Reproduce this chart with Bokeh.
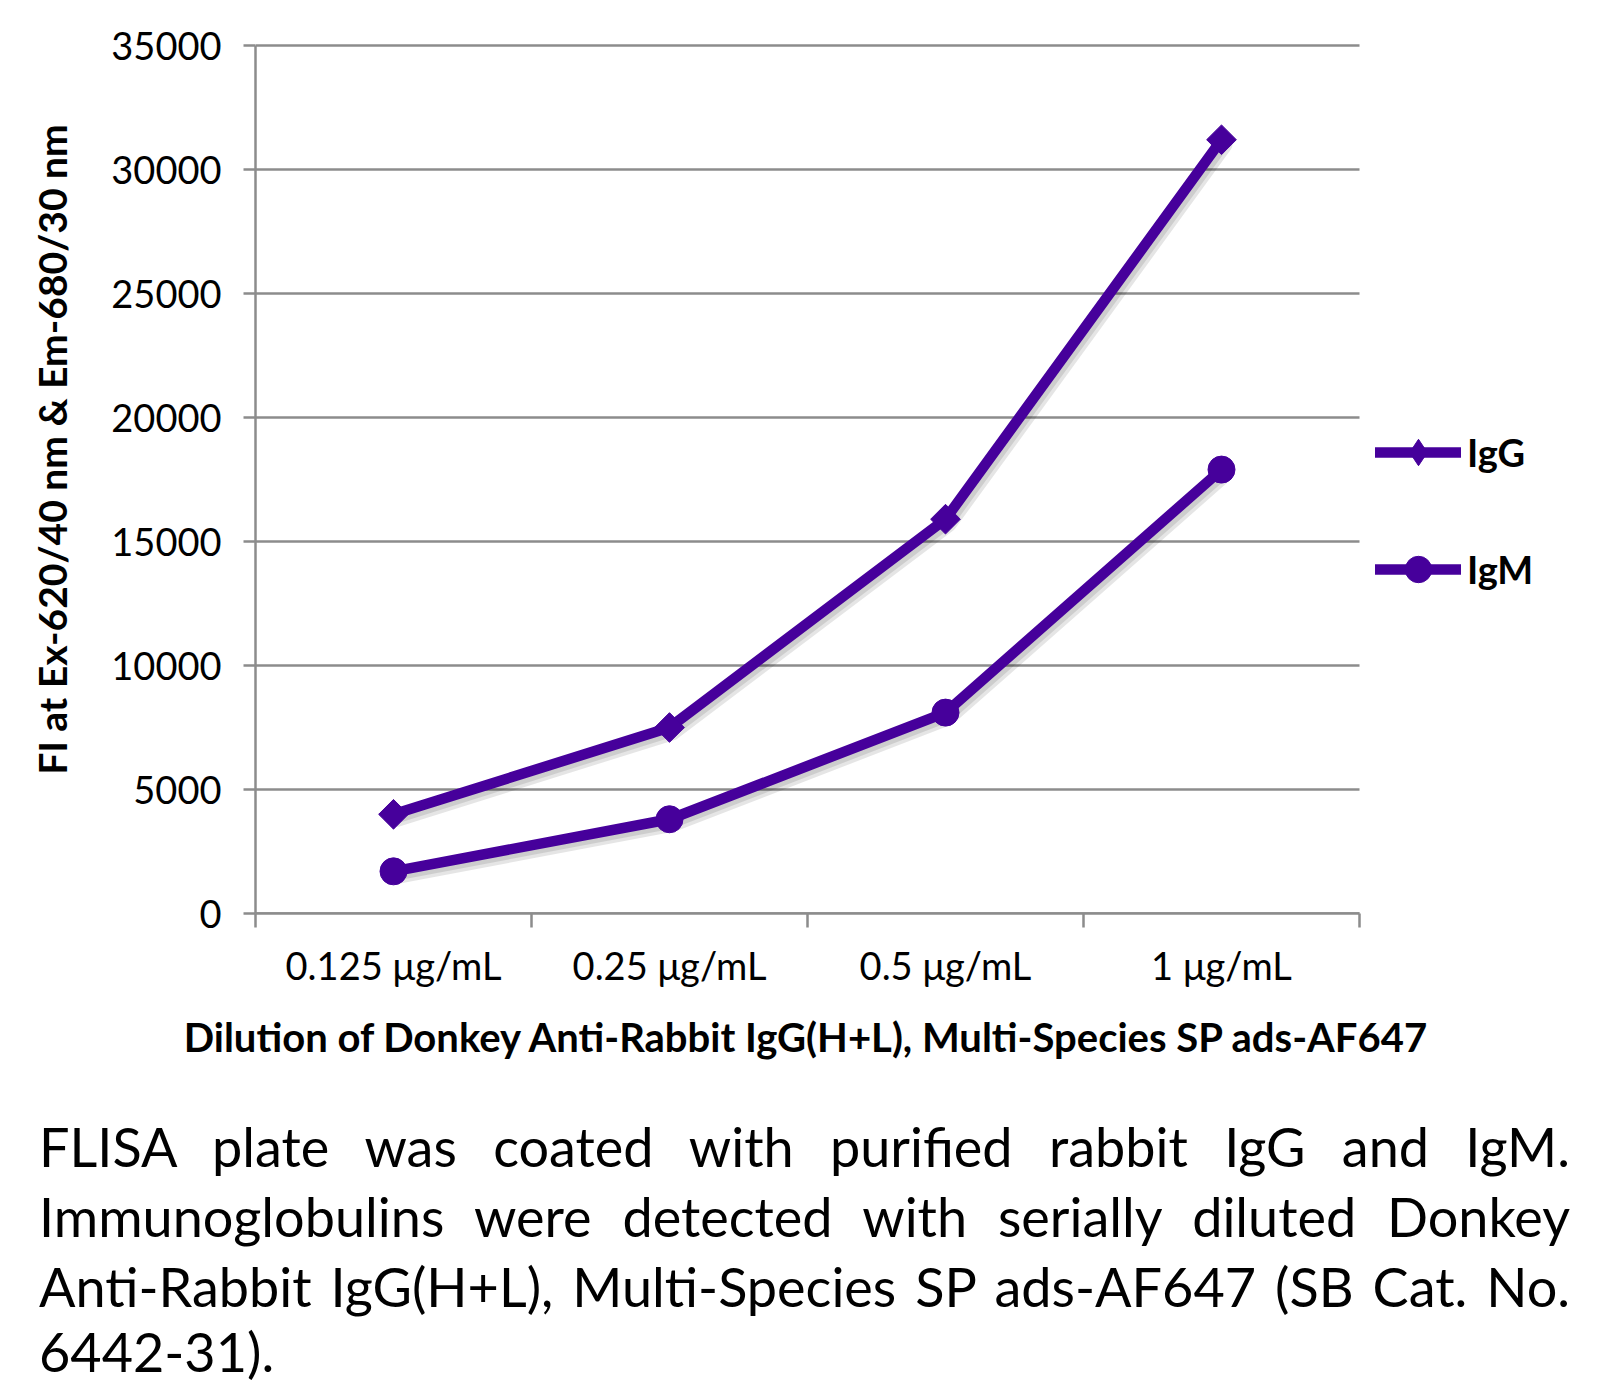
import math
from bokeh.plotting import figure
from bokeh.models import FixedTicker, Legend, LegendItem, Range1d, Div, LinearAxis
from bokeh.layouts import column
from bokeh.embed import file_html
from bokeh.resources import INLINE

categories = ["0.125 μg/mL", "0.25 μg/mL", "0.5 μg/mL", "1 μg/mL"]
igg = [4000, 7500, 15900, 31200]
igm = [1700, 3800, 8100, 17900]
y_ticks = [0, 5000, 10000, 15000, 20000, 25000, 30000, 35000]
series_names = ["IgG", "IgM"]
x_title = "Dilution of Donkey Anti-Rabbit IgG(H+L), Multi-Species SP ads-AF647"
y_title = "FI at Ex-620/40 nm & Em-680/30 nm"
caption_lines = [
    "FLISA plate was coated with purified rabbit IgG and IgM.",
    "Immunoglobulins were detected with serially diluted Donkey",
    "Anti-Rabbit IgG(H+L), Multi-Species SP ads-AF647 (SB Cat. No.",
    "6442-31).",
]

PURPLE = "#46009b"
GRID = "#8c8c8c"
FONT = "Lato"

n = len(categories)
x = [i + 0.5 for i in range(n)]
bounds = [float(i) for i in range(n + 1)]
y_max = y_ticks[-1]

# layout in pixels
FIG_W, FIG_H = 1604, 1088
LEFT, TOP_PAD, TOP = 255, 3, 42
PLOT_W, PLOT_H = 1104, 868          # data area (categories / 0..35000)
FRAME_W = FIG_W - LEFT               # frame extends right to host the legend
FRAME_H = PLOT_H + TOP_PAD
BOTTOM = FIG_H - TOP - FRAME_H

p = figure(width=FIG_W, height=FIG_H,
           x_range=Range1d(0, n * FRAME_W / PLOT_W),
           y_range=Range1d(0, y_max * FRAME_H / PLOT_H),
           output_backend="svg", toolbar_location=None,
           min_border_left=LEFT, min_border_right=0, min_border_top=TOP,
           min_border_bottom=BOTTOM)
p.outline_line_color = None
p.xgrid.visible = False
p.ygrid.visible = False

# horizontal gridlines limited to the category span
p.segment(x0=[0] * len(y_ticks), x1=[n] * len(y_ticks), y0=y_ticks, y1=y_ticks,
          line_color=GRID, line_width=2.5)

# x axis (category labels, boundary ticks)
xa = p.xaxis[0]
xa.bounds = (0, n)
xa.ticker = FixedTicker(ticks=x, minor_ticks=bounds)
xa.major_label_overrides = {xi: c for xi, c in zip(x, categories)}
xa.major_tick_out = 0
xa.major_tick_in = 0
xa.minor_tick_out = 14
xa.minor_tick_in = 0
xa.minor_tick_line_color = GRID
xa.minor_tick_line_width = 2.5
xa.axis_line_color = GRID
xa.axis_line_width = 2.5
xa.major_label_text_font = FONT
xa.major_label_text_font_size = "38px"
xa.major_label_text_color = "black"
xa.major_label_standoff = 14

# x title centred on the category span, as a second axis
xt = LinearAxis(bounds=(0, n), ticker=FixedTicker(ticks=[n / 2], minor_ticks=[]),
                major_label_overrides={n / 2: x_title},
                axis_line_color=None, major_tick_line_color=None,
                minor_tick_line_color=None, major_tick_out=0, major_tick_in=0,
                major_label_text_font=FONT, major_label_text_font_style="bold",
                major_label_text_font_size="40px", major_label_text_color="black",
                major_label_standoff=22)
p.add_layout(xt, "below")

# y axis
ya = p.yaxis[0]
ya.bounds = (0, y_max)
ya.ticker = FixedTicker(ticks=y_ticks, minor_ticks=[])
ya.major_tick_out = 12
ya.major_tick_in = 0
ya.major_tick_line_color = GRID
ya.major_tick_line_width = 2.5
ya.axis_line_color = GRID
ya.axis_line_width = 2.5
ya.major_label_text_font = FONT
ya.major_label_text_font_size = "38px"
ya.major_label_text_color = "black"
ya.major_label_standoff = 22
ya.axis_label = "\u00a0" * 6 + y_title
ya.axis_label_text_font = FONT
ya.axis_label_text_font_style = "bold"
ya.axis_label_text_font_size = "39px"
ya.axis_label_text_color = "black"
ya.axis_label_standoff = 33

# soft shadows
for vals in (igg, igm):
    p.line([xi + 0.014 for xi in x], [v - 220 for v in vals], line_width=14,
           line_color="black", line_alpha=0.10, line_join="round", line_cap="round")
    p.line([xi + 0.010 for xi in x], [v - 150 for v in vals], line_width=11,
           line_color="black", line_alpha=0.10, line_join="round", line_cap="round")

l1 = p.line(x, igg, line_width=10.5, line_color=PURPLE, line_join="round", line_cap="round")
# diamond used for the legend swatch (hidden beneath the rotated squares)
d1 = p.scatter(x, igg, marker="diamond", size=26, fill_color=PURPLE, line_color=PURPLE)
s1 = p.scatter(x, igg, marker="square", angle=math.pi / 4, size=21,
               fill_color=PURPLE, line_color=PURPLE)
l2 = p.line(x, igm, line_width=10.5, line_color=PURPLE, line_join="round", line_cap="round")
s2 = p.scatter(x, igm, marker="circle", size=27, fill_color=PURPLE, line_color=PURPLE)

legend = Legend(items=[LegendItem(label=series_names[0], renderers=[l1, d1]),
                       LegendItem(label=series_names[1], renderers=[l2, s2])],
                location=(1120, 311), orientation="vertical",
                glyph_width=86, glyph_height=66, spacing=51, padding=0, margin=0,
                label_standoff=6, label_text_font=FONT, label_text_font_style="bold",
                label_text_font_size="38px", label_text_color="black",
                border_line_color=None, background_fill_alpha=0)
p.add_layout(legend)

html_lines = "".join(
    f'<div style="text-align:justify;text-align-last:justify;line-height:70px;height:70px;white-space:nowrap;width:1531px;">{t}</div>'
    for t in caption_lines[:-1]
) + f'<div style="line-height:60px;height:60px;width:1531px;">{caption_lines[-1]}</div>'

div = Div(text=f'<div style="width:1531px">{html_lines}</div>', width=1531, height=270,
          styles={"font-family": FONT, "font-size": "54px", "color": "black"},
          margin=(24, 0, 0, 39))

layout = column(p, div, spacing=0)
open("out.html", "w").write(file_html(layout, INLINE))
